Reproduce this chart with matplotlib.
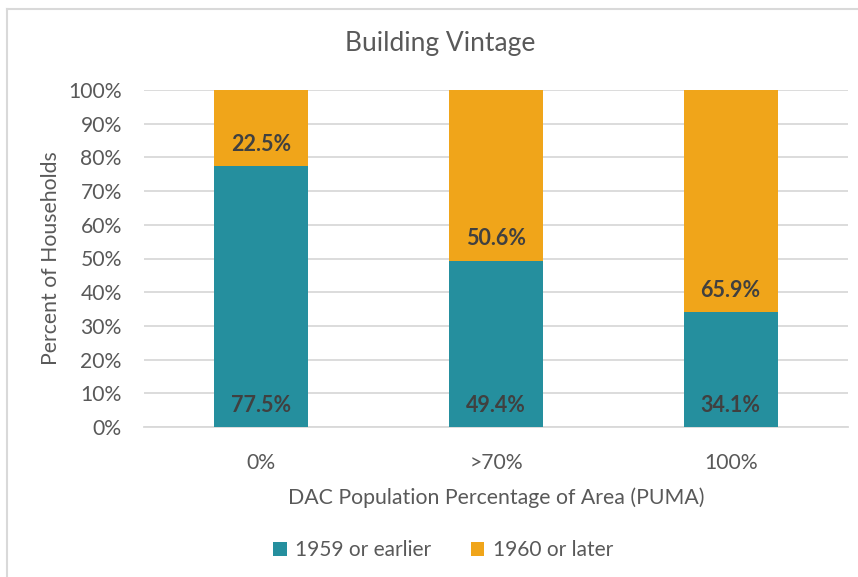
import numpy as np
import matplotlib.pyplot as plt
from matplotlib.lines import Line2D
from matplotlib.patches import Patch

plt.rcParams['font.family'] = ['Lato', 'DejaVu Sans']

categories = ['0%', '>70%', '100%']
before_1960 = [77.5, 49.4, 34.1]
after_1960 = [22.5, 50.6, 65.9]
series_names = ['1959 or earlier', '1960 or later']

TEAL = '#258F9E'
ORANGE = '#F0A51A'
TXT = '#595959'
LBL = '#404040'
GRID = '#D9D9D9'

W, H = 858, 577
fig = plt.figure(figsize=(W / 100, H / 100), dpi=100)
ax = fig.add_axes([144 / W, 1 - 427 / H, (848 - 144) / W, (427 - 90) / H])

x = np.arange(len(categories))
bw = 0.4
b1 = ax.bar(x, before_1960, bw, color=TEAL, zorder=3)
b2 = ax.bar(x, after_1960, bw, bottom=before_1960, color=ORANGE, zorder=3)

# labels sit near the bottom of each segment (Excel "inside base")
for i in range(len(x)):
    ax.annotate(f'{before_1960[i]:.1f}%', (x[i], 0), xytext=(0, 15.5),
                textcoords='offset points', ha='center', va='center',
                fontsize=15.5, fontweight='bold', color=LBL, zorder=4)
    ax.annotate(f'{after_1960[i]:.1f}%', (x[i], before_1960[i]), xytext=(0, 15.5),
                textcoords='offset points', ha='center', va='center',
                fontsize=15.5, fontweight='bold', color=LBL, zorder=4)

ax.set_xlim(-0.5, len(categories) - 0.5)
ax.set_ylim(0, 100)
ax.set_yticks(np.arange(0, 101, 10))
ax.set_yticklabels([f'{v}%' for v in range(0, 101, 10)])
ax.set_xticks(x)
ax.set_xticklabels(categories)
ax.yaxis.grid(True, color=GRID, linewidth=1.3, zorder=0)
ax.set_axisbelow(True)
for s in ['top', 'right', 'left']:
    ax.spines[s].set_visible(False)
ax.spines['bottom'].set_color(GRID)
ax.spines['bottom'].set_linewidth(1.3)
ax.tick_params(axis='both', length=0, labelsize=15.2, labelcolor=TXT)
ax.tick_params(axis='y', pad=16)
ax.tick_params(axis='x', pad=19)

ax.set_xlabel('DAC Population Percentage of Area (PUMA)', fontsize=15.3,
              color=TXT, labelpad=10)
ax.set_ylabel('Percent of Households', fontsize=15.3, color=TXT, labelpad=5)

fig.text(440 / W, 1 - 43 / H, 'Building Vintage', ha='center', va='center',
         fontsize=19, color=TXT)

handles = [Patch(facecolor=TEAL), Patch(facecolor=ORANGE)]
fig.legend(handles, series_names, loc='center', bbox_to_anchor=(443 / W, 1 - 550 / H),
           ncol=2, frameon=False, fontsize=15, labelcolor=TXT,
           handlelength=0.65, handleheight=0.65, handletextpad=0.4, columnspacing=1.9)

# chart border (only top/left visible in the crop)
fig.add_artist(Line2D([7 / W, 1], [1 - 9 / H, 1 - 9 / H], transform=fig.transFigure,
                      color=GRID, linewidth=1.5))
fig.add_artist(Line2D([7 / W, 7 / W], [0, 1 - 9 / H], transform=fig.transFigure,
                      color=GRID, linewidth=1.5))

fig.savefig('out.png', dpi=100)
